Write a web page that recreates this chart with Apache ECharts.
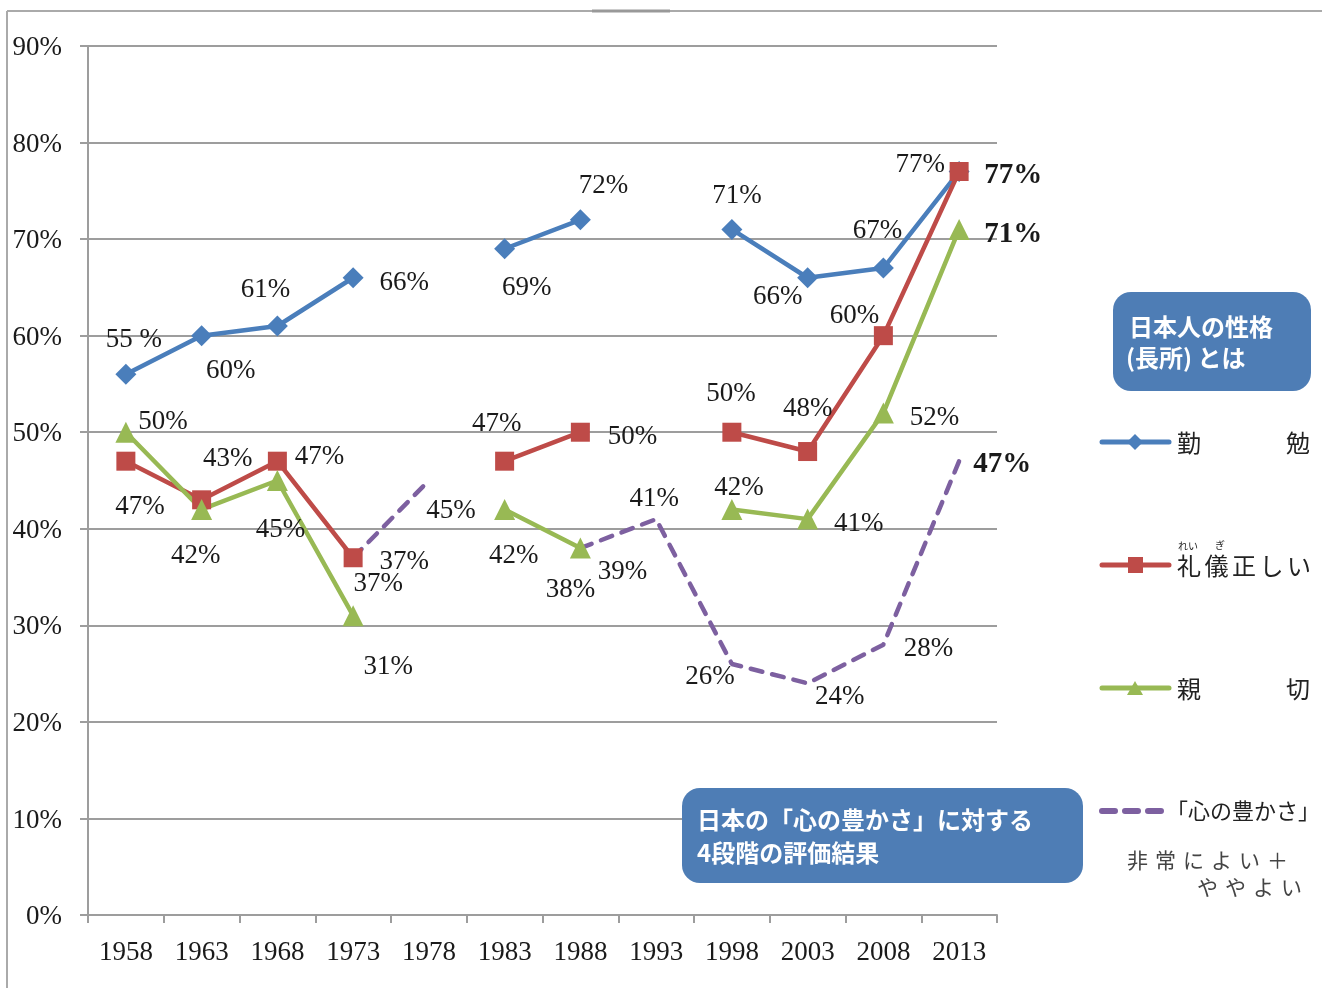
<!DOCTYPE html>
<html>
<head>
<meta charset="utf-8">
<script src="https://cdn.jsdelivr.net/npm/echarts@6/dist/echarts.min.js"></script>
<style>
html, body { margin: 0; padding: 0; background: #fff; }
#chart { width: 1322px; height: 988px; }
</style>
</head>
<body>
<div id="chart"></div>
<script>
// 調査年
var years = ['1958', '1963', '1968', '1973', '1978', '1983', '1988', '1993', '1998', '2003', '2008', '2013'];

// 日本人の性格（長所）
var kinben    = [56, 60, 61, 66, null, 69, 72, null, 71, 66, 67, 77];   // 勤勉
var reigi     = [47, 43, 47, 37, null, 47, 50, null, 50, 48, 60, 77];   // 礼儀正しい
var shinsetsu = [50, 42, 45, 31, null, 42, 38, null, 42, 41, 52, 71];   // 親切
// 「心の豊かさ」 非常によい＋ややよい
var kokoro    = [null, null, null, 37, 45, null, 38, 41, 26, 24, 28, 47];

// labels printed differently from the plotted point
var kinbenText = { 0: '55 %' };
var kokoroText = { 6: '39%' };

// label offsets (px) from each point
var kinbenOff = [[8,-36],[29,33],[-12,-38],[51,3],null,[22,37],[23,-36],null,[5,-36],[-30,17],[-6,-39],[-39,-9]];
var reigiOff  = [[14,44],[26,-43],[42,-6],[25,24],null,[-8,-39],[52,3],null,[-1,-40],[0,-45],[-29,-22],[54,2]];
var shinOff   = [[37,-12],[-6,44],[3,47],[35,49],null,[9,44],[-10,40],null,[7,-24],[51,3],[51,3],[54,3]];
var kokoroOff = [null,null,null,[51,2],[22,28],null,[42,22],[-2,-22],[-22,11],[32,12],[45,2],[43,1]];

var serif = '"Liberation Serif", "Times New Roman", serif';
var jp = '"Noto Sans CJK JP", "Noto Sans", sans-serif';

function makeData(values, offsets, texts, boldLast) {
    return values.map(function (v, i) {
        if (v == null) return '-';
        var off = offsets[i] || [0, 0];
        // serif glyphs sit a little high when middle-aligned
        var lab = { show: offsets[i] != null, offset: [off[0], off[1] + 2] };
        if (texts && texts[i]) lab.formatter = texts[i];
        if (boldLast && i === values.length - 1) {
            lab.fontWeight = 'bold';
            lab.fontSize = 29;
        }
        return { value: v, label: lab };
    });
}

function lineSeries(name, values, offsets, texts, color, symbol, size, boldLast, dashed) {
    return {
        name: name,
        type: 'line',
        data: makeData(values, offsets, texts, boldLast),
        symbol: dashed ? 'circle' : symbol,
        symbolSize: dashed ? 1 : size,
        showSymbol: true,
        itemStyle: { color: dashed ? 'rgba(0,0,0,0)' : color },
        lineStyle: dashed
            ? { color: color, width: 4.5, type: [12, 10], cap: 'round' }
            : { color: color, width: 4.5 },
        label: {
            show: true,
            position: 'inside',
            align: 'center',
            verticalAlign: 'middle',
            color: '#1a1a1a',
            fontFamily: serif,
            fontSize: 27,
            formatter: function (p) { return p.value + '%'; }
        },
        emphasis: { disabled: true },
        silent: true
    };
}

var cBlue = '#4a7ebb', cRed = '#be4b48', cGreen = '#98b954', cPurple = '#7d60a0';
var boxColor = '#4e7db5';

function chars(str, x0, pitch, y, style) {
    return str.split('').map(function (ch, i) {
        return {
            type: 'text', x: x0 + i * pitch, y: y, z: 100, silent: true,
            style: Object.assign({ text: ch, textVerticalAlign: 'middle' }, style)
        };
    });
}

var legendText = { fill: '#222', font: '24px ' + jp };
var noteText = { fill: '#444', font: '21px ' + jp };

var graphics = [
    // frame
    { type: 'line', z: 100, shape: { x1: 7, y1: 11, x2: 1322, y2: 11 }, style: { stroke: '#aaa', lineWidth: 2 } },
    { type: 'line', z: 100, shape: { x1: 7, y1: 11, x2: 7, y2: 988 }, style: { stroke: '#aaa', lineWidth: 2 } },
    { type: 'line', z: 101, shape: { x1: 592, y1: 11, x2: 670, y2: 11 }, style: { stroke: '#999', lineWidth: 3 } },

    // box: 日本人の性格（長所）とは
    { type: 'rect', z: 100, shape: { x: 1113, y: 292, width: 198, height: 99, r: 18 }, style: { fill: boxColor } },
    { type: 'text', z: 101, x: 1129, y: 327, style: { text: '日本人の性格', fill: '#fff', font: 'bold 24px ' + jp, textVerticalAlign: 'middle' } },
    { type: 'text', z: 101, x: 1126, y: 358, style: { text: '(長所) とは', fill: '#fff', font: 'bold 24px ' + jp, textVerticalAlign: 'middle' } },

    // box: 日本の「心の豊かさ」に対する4段階の評価結果
    { type: 'rect', z: 100, shape: { x: 682, y: 788, width: 401, height: 95, r: 18 }, style: { fill: boxColor } },
    { type: 'text', z: 101, x: 697, y: 820, style: { text: '日本の「心の豊かさ」に対する', fill: '#fff', font: 'bold 24px ' + jp, textVerticalAlign: 'middle' } },
    { type: 'text', z: 101, x: 697, y: 853, style: { text: '4段階の評価結果', fill: '#fff', font: 'bold 24px ' + jp, textVerticalAlign: 'middle' } },

    // legend: 勤勉
    { type: 'line', z: 100, shape: { x1: 1102, y1: 442, x2: 1169, y2: 442 }, style: { stroke: cBlue, lineWidth: 5, lineCap: 'round' } },
    { type: 'polygon', z: 101, shape: { points: [[1135, 434], [1143, 442], [1135, 450], [1127, 442]] }, style: { fill: cBlue } },
    { type: 'text', z: 100, x: 1177, y: 443, style: Object.assign({ text: '勤', textVerticalAlign: 'middle' }, legendText) },
    { type: 'text', z: 100, x: 1286, y: 443, style: Object.assign({ text: '勉', textVerticalAlign: 'middle' }, legendText) },

    // legend: 礼儀正しい
    { type: 'line', z: 100, shape: { x1: 1102, y1: 565, x2: 1169, y2: 565 }, style: { stroke: cRed, lineWidth: 5, lineCap: 'round' } },
    { type: 'rect', z: 101, shape: { x: 1128, y: 557, width: 15, height: 16 }, style: { fill: cRed } },
    { type: 'text', z: 100, x: 1178, y: 546, style: { text: 'れい', fill: '#222', font: '10px ' + jp, textVerticalAlign: 'middle' } },
    { type: 'text', z: 100, x: 1215, y: 545, style: { text: 'ぎ', fill: '#222', font: '10px ' + jp, textVerticalAlign: 'middle' } },

    // legend: 親切
    { type: 'line', z: 100, shape: { x1: 1102, y1: 688, x2: 1169, y2: 688 }, style: { stroke: cGreen, lineWidth: 5, lineCap: 'round' } },
    { type: 'polygon', z: 101, shape: { points: [[1135, 681], [1143, 695], [1127, 695]] }, style: { fill: cGreen } },
    { type: 'text', z: 100, x: 1177, y: 689, style: Object.assign({ text: '親', textVerticalAlign: 'middle' }, legendText) },
    { type: 'text', z: 100, x: 1286, y: 689, style: Object.assign({ text: '切', textVerticalAlign: 'middle' }, legendText) },

    // legend: 「心の豊かさ」
    { type: 'line', z: 100, shape: { x1: 1102, y1: 811, x2: 1161, y2: 811 }, style: { stroke: cPurple, lineWidth: 6, lineCap: 'round', lineDash: [13, 10] } },
    { type: 'text', z: 100, x: 1166, y: 811, style: { text: '「心の豊かさ」', fill: '#222', font: '22px ' + jp, textVerticalAlign: 'middle' } }
];

graphics = graphics
    .concat(chars('礼儀正しい', 1177, 27.5, 566, legendText))
    .concat(chars('非常によい＋', 1127, 28, 860, noteText))
    .concat(chars('ややよい', 1197, 28, 887, noteText));

var chart = echarts.init(document.getElementById('chart'));
chart.setOption({
    animation: false,
    backgroundColor: '#fff',
    grid: { left: 88, right: 325, top: 46, bottom: 73 },
    xAxis: {
        type: 'category',
        data: years,
        boundaryGap: true,
        axisLine: { lineStyle: { color: '#9d9d9d', width: 2 } },
        axisTick: { show: true, length: 8, lineStyle: { color: '#9d9d9d', width: 2 } },
        axisLabel: { color: '#1a1a1a', fontFamily: serif, fontSize: 27, margin: 24, interval: 0 },
        splitLine: { show: false }
    },
    yAxis: {
        type: 'value',
        min: 0,
        max: 90,
        interval: 10,
        axisLine: { show: true, lineStyle: { color: '#9d9d9d', width: 2 } },
        axisTick: { show: true, length: 8, lineStyle: { color: '#9d9d9d', width: 2 } },
        axisLabel: {
            color: '#1a1a1a', fontFamily: serif, fontSize: 27, margin: 26,
            formatter: '{p|{value}%}',
            rich: { p: { fontFamily: serif, fontSize: 27, color: '#1a1a1a', padding: [4, 0, 0, 0] } }
        },
        splitLine: { lineStyle: { color: '#9d9d9d', width: 2 } }
    },
    series: [
        lineSeries('勤勉', kinben, kinbenOff, kinbenText, cBlue, 'diamond', 21, false, false),
        lineSeries('礼儀正しい', reigi, reigiOff, null, cRed, 'rect', 19, true, false),
        lineSeries('親切', shinsetsu, shinOff, null, cGreen, 'triangle', 21, true, false),
        lineSeries('「心の豊かさ」', kokoro, kokoroOff, kokoroText, cPurple, 'none', 1, true, true)
    ],
    graphic: graphics
});
</script>
</body>
</html>
